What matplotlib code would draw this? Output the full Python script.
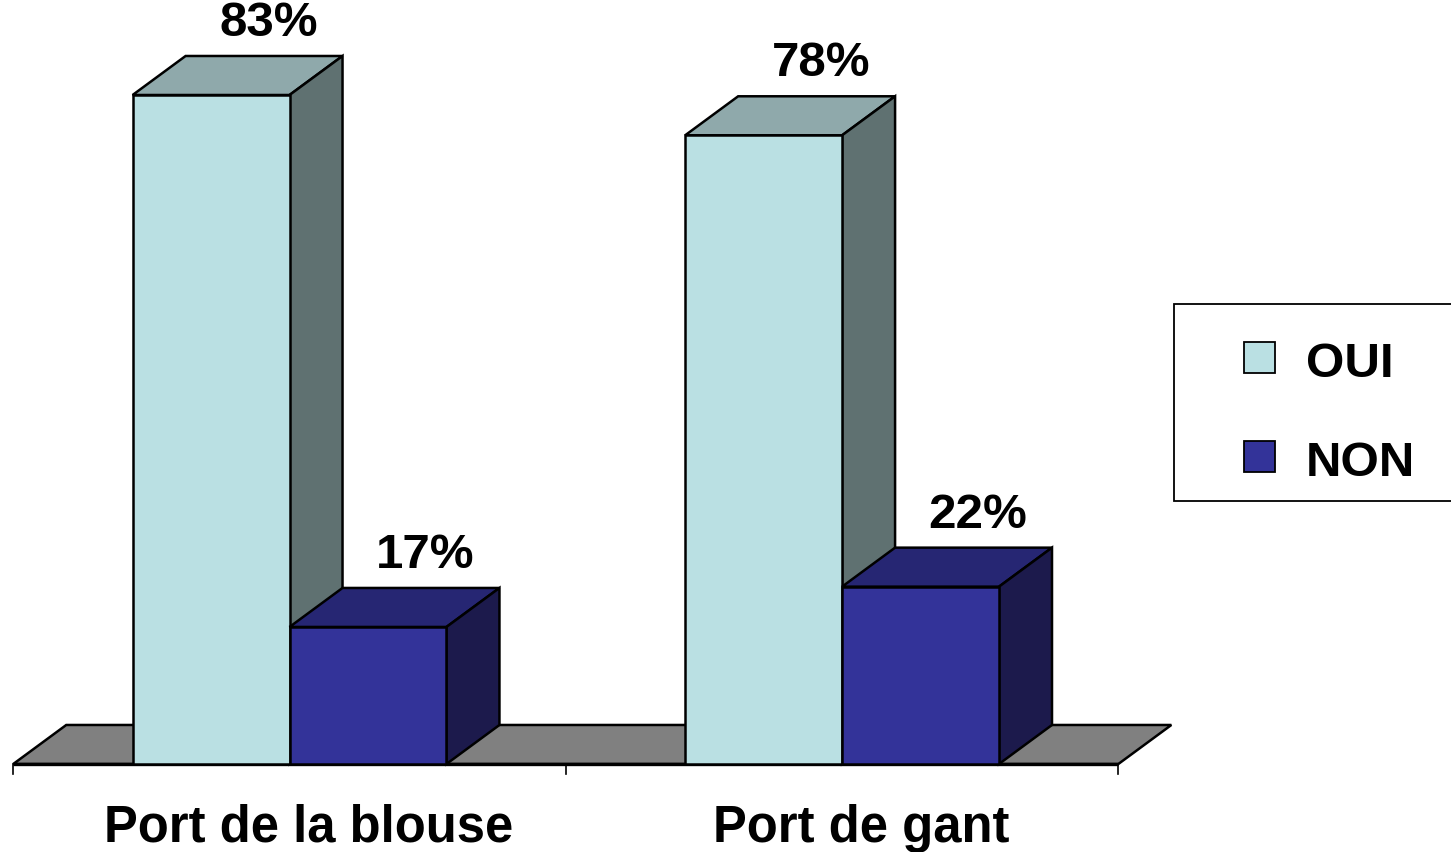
import matplotlib
matplotlib.use("Agg")
import matplotlib.pyplot as plt
from matplotlib.patches import Polygon, Rectangle

# ---- data ----
categories = ["Port de la blouse", "Port de gant"]
series_names = ["OUI", "NON"]
oui_values = [83, 78]
non_values = [17, 22]

# ---- style ----
front_colors = ["#BAE0E3", "#333399"]
top_colors = ["#8FA9AB", "#262673"]
side_colors = ["#5F7171", "#1C1A4C"]
floor_color = "#808080"
LW = 1.8
FONT = "Liberation Sans"

W, H, DPI = 1451, 853, 100
fig = plt.figure(figsize=(W / DPI, H / DPI), dpi=DPI)
ax = fig.add_axes([0, 0, 1, 1])
ax.set_xlim(-0.524, 2.102)
ax.set_ylim(-10.92, 94.91)
ax.axis("off")

BAR_W = 0.284      # bar width in category units
DX, DY = 0.0959, 4.84  # 3-D depth offset

n = len(categories)
x0, x1 = -0.5, n - 0.5

# floor
ax.add_patch(Polygon([(x0, 0), (x1, 0), (x1 + DX, DY), (x0 + DX, DY)],
                     closed=True, facecolor=floor_color, edgecolor="black",
                     lw=LW, zorder=1))
ax.plot([x0, x1], [0, 0], color="black", lw=LW + 0.6, zorder=1.5,
        solid_capstyle="butt")
for t in range(n + 1):
    ax.plot([x0 + t, x0 + t], [0, -1.3], color="black", lw=1.2, zorder=1.5)

all_series = [oui_values, non_values]
z = 2
for i in range(n):
    for s, vals in enumerate(all_series):
        left = i - BAR_W + s * BAR_W
        v = vals[i]
        ax.bar(left, v, width=BAR_W, align="edge", color=front_colors[s],
               edgecolor="black", lw=LW, zorder=z + 0.5)
        # top face
        ax.add_patch(Polygon([(left, v), (left + BAR_W, v),
                              (left + BAR_W + DX, v + DY), (left + DX, v + DY)],
                             closed=True, facecolor=top_colors[s],
                             edgecolor="black", lw=LW, zorder=z))
        # side face
        ax.add_patch(Polygon([(left + BAR_W, 0), (left + BAR_W + DX, DY),
                              (left + BAR_W + DX, v + DY), (left + BAR_W, v)],
                             closed=True, facecolor=side_colors[s],
                             edgecolor="black", lw=LW, zorder=z))
        ax.text(left + BAR_W / 2 + DX + 0.008, v + DY + 2.6, f"{v}%",
                ha="center", va="baseline", fontsize=35.5, fontweight="bold",
                family=FONT, zorder=10)
        z += 1

for i, c in enumerate(categories):
    ax.text(i + 0.034, -9.55, c, ha="center", va="baseline", fontsize=36.5,
            fontweight="bold", family=FONT)

# legend (manual, frame runs past the right edge)
fig.patches.append(Rectangle((1174 / W, 1 - 502 / H), 0.2, (502 - 305) / H,
                             transform=fig.transFigure, facecolor="white",
                             edgecolor="black", lw=1.3, zorder=20))
marker_tops = [343, 442]
for s, name in enumerate(series_names):
    top = marker_tops[s]
    fig.patches.append(Rectangle((1244 / W, 1 - (top + 31) / H), 31 / W, 31 / H,
                                 transform=fig.transFigure,
                                 facecolor=front_colors[s], edgecolor="black",
                                 lw=1.3, zorder=21))
    fig.text(1306 / W, 1 - (top + 34) / H, name, ha="left", va="baseline",
             fontsize=35.5, fontweight="bold", family=FONT, zorder=22)

fig.savefig("out.png", dpi=DPI)
